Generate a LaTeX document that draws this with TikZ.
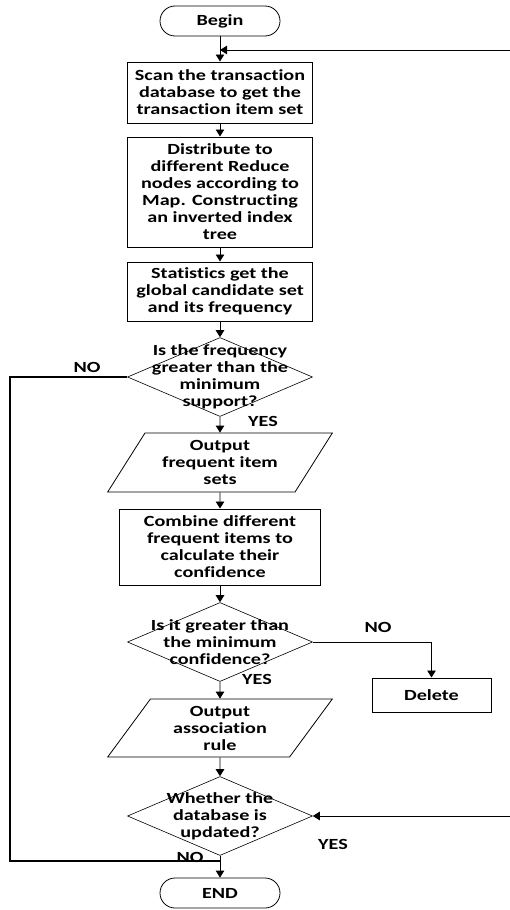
\documentclass[tikz,border=0pt]{standalone}
\usepackage{fontspec}
\setmainfont{Carlito}[FakeStretch=1.3, Ligatures=NoCommon]
\usetikzlibrary{arrows.meta,shapes.geometric}
\newcommand{\MidX}{220}
\newcommand{\RailX}{10}
\newcommand{\EdgeX}{510}
\newcommand{\BoxW}{185}

\begin{document}
\begin{tikzpicture}[
    x=1pt, y=-1pt,
    font=\fontsize{15.5}{17}\selectfont\bfseries,
    flow/.style={-{Triangle[length=7pt,width=8.5pt]}, line width=0.9pt, draw=black},
    rail/.style={-, line width=1.2pt, draw=black},
    terminal/.style={draw, line width=0.8pt, rounded corners=15pt, minimum width=120pt, minimum height=30pt, inner sep=0pt},
    process/.style={draw, line width=1pt, minimum width=\BoxW pt, align=center, inner sep=1pt},
    decision/.style={draw, diamond, line width=0.6pt, minimum width=\BoxW pt, minimum height=79pt, inner sep=0pt},
    dtext/.style={align=center, inner sep=0pt},
    io/.style={draw, trapezium, trapezium left angle=57, trapezium right angle=123, trapezium stretches=true, minimum width=225pt, minimum height=59pt, line width=0.8pt, align=center, inner sep=0pt},
    tag/.style={inner sep=0pt},
  ]
\useasboundingbox (0,0) rectangle (\EdgeX,910);

% The main column, top to bottom.
\node[terminal] (begin) at (\MidX, 21) {Begin};
\node[process, minimum height=61pt] (scan) at (\MidX, 92.5) {Scan the transaction\\database to get the\\transaction item set};
\node[process, minimum height=110pt] (distribute) at (\MidX, 192) {Distribute to\\different Reduce\\nodes according to\\Map. Constructing\\an inverted index\\tree};
\node[process, minimum height=59pt] (stats) at (\MidX, 291.5) {Statistics get the\\global candidate set\\and its frequency};
\node[decision, label={[dtext]center:{Is the frequency\\greater than the\\minimum\\support?}}] (freq) at (\MidX, 377) {};
\node[io] (outfreq) at (\MidX, 462.5) {Output\\frequent item\\sets};
\node[process, minimum width=201pt, minimum height=76pt] (combine) at (\MidX, 547) {Combine different\\frequent items to\\calculate their\\confidence};
\node[decision, label={[dtext]center:{Is it greater than\\the minimum\\confidence?}}] (conf) at (\MidX, 642) {};
\node[process, minimum width=119pt, minimum height=34pt] (delete) at (431.5, 695) {Delete};
\node[io, minimum height=58pt] (outrule) at (\MidX, 728) {Output\\association\\rule};
\node[decision, label={[dtext]center:{Whether the\\database is\\updated?}}] (upd) at (\MidX, 816) {};
\node[terminal] (finish) at (\MidX, 893) {END};

\foreach \a/\b in {begin/scan, scan/distribute, distribute/stats, stats/freq,
    freq/outfreq, outfreq/combine, combine/conf, conf/outrule, outrule/upd, upd/finish}
  \draw[flow] (\a.south) -- (\b.north);

\draw[flow] (conf.east) -| (delete.north);

% Loops coming in from the right edge.
\coordinate (topfeed) at (\EdgeX, 50);
\coordinate (topjoin) at (\MidX, 50);
\draw[flow] (topfeed) -- (topjoin);
\coordinate (botfeed) at (\EdgeX, 816);
\draw[flow] (botfeed) -- (upd.east);

% The NO rail on the left.
\coordinate (railbot) at (\RailX, 861);
\coordinate (rejoin) at (\MidX, 861);
\draw[rail] (freq.west) -| (railbot) -- (rejoin);

\node[tag] (no1) at (87, 367) {NO};
\node[tag] (yes1) at (263, 421) {YES};
\node[tag] (no2) at (378, 627) {NO};
\node[tag] (yes2) at (257, 679) {YES};
\node[tag] (yes3) at (333, 844) {YES};
\node[tag] (no3) at (190, 857) {NO};

\end{tikzpicture}
\end{document}
